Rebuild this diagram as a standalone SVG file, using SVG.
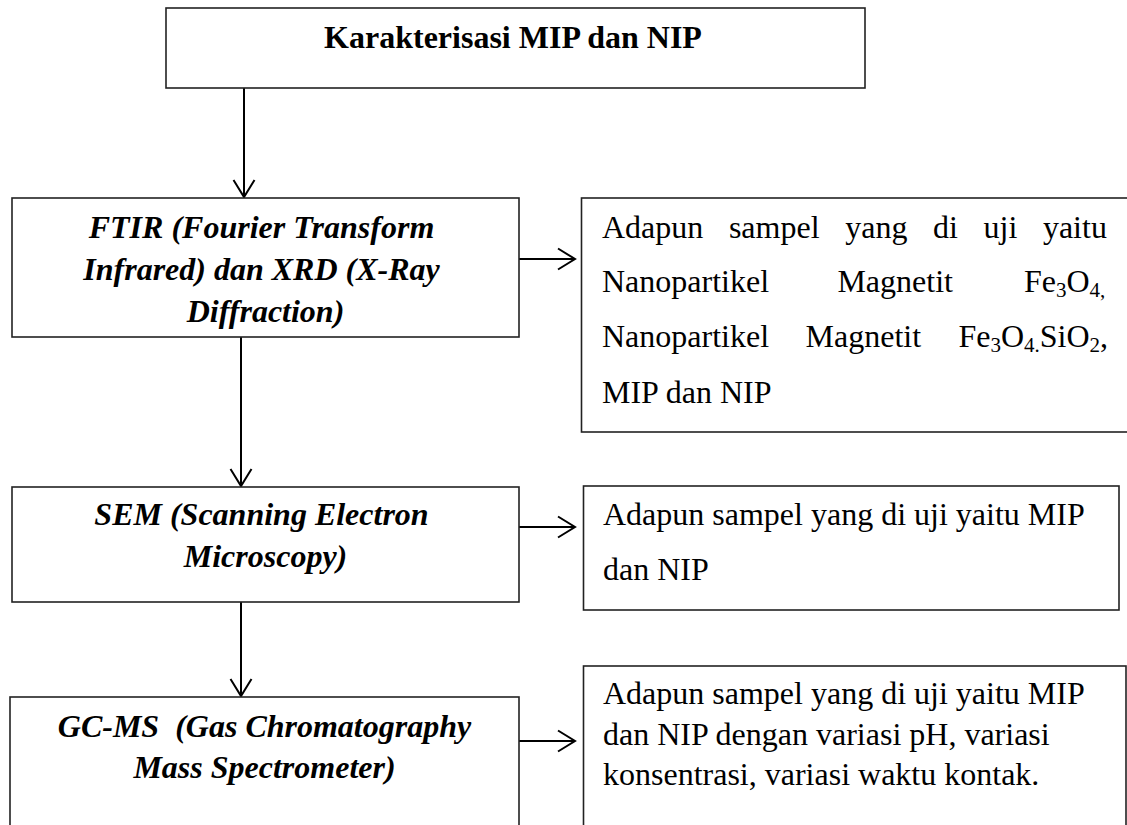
<svg xmlns="http://www.w3.org/2000/svg" width="1127" height="825" viewBox="0 0 1127 825">
  <defs>
    <style>
      .box { fill: #fff; stroke: #222; stroke-width: 1.6; }
      .conn { stroke: #000; stroke-width: 2; fill: none; }
      .t { font-family: "Liberation Serif", "Times New Roman", serif; font-size: 32px; fill: #000; }
      .bi { font-weight: bold; font-style: italic; }
      .b { font-weight: bold; }
      .sub { font-size: 21px; }
    </style>
    <marker id="arr" markerUnits="userSpaceOnUse" viewBox="-20 -13 22 26" refX="0" refY="0" markerWidth="22" markerHeight="26" orient="auto">
      <path d="M-17,-10.5 L0,0 L-17,10.5" fill="none" stroke="#000" stroke-width="2"/>
    </marker>
  </defs>
  <rect width="1127" height="825" fill="#fff"/>

  <g id="connectors">
    <line class="conn" x1="244" y1="88" x2="244" y2="197" marker-end="url(#arr)"/>
    <line class="conn" x1="241" y1="337" x2="241" y2="486" marker-end="url(#arr)"/>
    <line class="conn" x1="241" y1="602" x2="241" y2="696" marker-end="url(#arr)"/>
    <line class="conn" x1="519" y1="259" x2="575" y2="259" marker-end="url(#arr)"/>
    <line class="conn" x1="519" y1="527" x2="575" y2="527" marker-end="url(#arr)"/>
    <line class="conn" x1="519" y1="741" x2="575" y2="741" marker-end="url(#arr)"/>
  </g>

  <g id="node-karakterisasi">
    <rect class="box" x="166" y="8" width="699" height="80"/>
    <text class="t b" x="513" y="48" text-anchor="middle">Karakterisasi MIP dan NIP</text>
  </g>

  <g id="node-ftir">
    <rect class="box" x="12" y="198" width="507" height="139"/>
    <text class="t bi" text-anchor="middle">
      <tspan x="265.5" y="238">FTIR (Fourier Transform</tspan>
      <tspan x="265.5" y="280">Infrared) dan XRD (X-Ray</tspan>
      <tspan x="265.5" y="322">Diffraction)</tspan>
    </text>
  </g>

  <g id="node-sampel-ftir">
    <rect class="box" x="581.5" y="198" width="570" height="234"/>
    <text class="t" y="238"><tspan x="602">Adapun</tspan><tspan x="728.9">sampel</tspan><tspan x="845.2">yang</tspan><tspan x="933">di</tspan><tspan x="983.5">uji</tspan><tspan x="1042.9">yaitu</tspan></text>
    <text class="t" y="292"><tspan x="602">Nanopartikel</tspan><tspan x="837.4">Magnetit</tspan><tspan x="1024">Fe</tspan><tspan class="sub" dy="5">3</tspan><tspan dy="-5">O</tspan><tspan class="sub" dy="5">4,</tspan></text>
    <text class="t" y="347"><tspan x="602">Nanopartikel</tspan><tspan x="805.6">Magnetit</tspan><tspan x="958.4">Fe</tspan><tspan class="sub" dy="5">3</tspan><tspan dy="-5">O</tspan><tspan class="sub" dy="5">4.</tspan><tspan dy="-5">SiO</tspan><tspan class="sub" dy="5">2</tspan><tspan dy="-5">,</tspan></text>
    <text class="t" x="602" y="403">MIP dan NIP</text>
  </g>

  <g id="node-sem">
    <rect class="box" x="12" y="487" width="507" height="115"/>
    <text class="t bi" text-anchor="middle">
      <tspan x="265.5" y="525">SEM (Scanning Electron</tspan>
      <tspan x="265.5" y="567">Microscopy)</tspan>
    </text>
  </g>

  <g id="node-sampel-sem">
    <rect class="box" x="583.5" y="486" width="535.5" height="124"/>
    <text class="t" x="603" y="525">Adapun sampel yang di uji yaitu MIP</text>
    <text class="t" x="603" y="580">dan NIP</text>
  </g>

  <g id="node-gcms">
    <rect class="box" x="10" y="697" width="509" height="200"/>
    <text class="t bi" text-anchor="middle" xml:space="preserve"><tspan x="264.5" y="737">GC-MS  (Gas Chromatography</tspan><tspan x="264.5" y="778">Mass Spectrometer)</tspan></text>
  </g>

  <g id="node-sampel-gcms">
    <rect class="box" x="583.5" y="666" width="542.5" height="200"/>
    <text class="t">
      <tspan x="603" y="704">Adapun sampel yang di uji yaitu MIP</tspan>
      <tspan x="603" y="745">dan NIP dengan variasi pH, variasi</tspan>
      <tspan x="603" y="785">konsentrasi, variasi waktu kontak.</tspan>
    </text>
  </g>
</svg>
